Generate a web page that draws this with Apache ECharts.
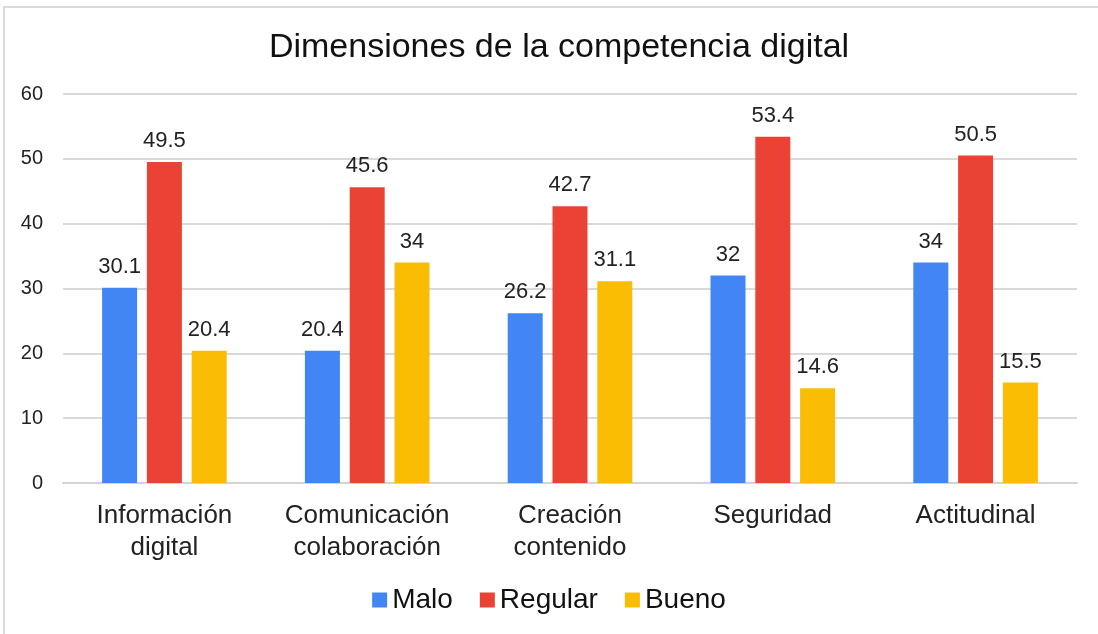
<!DOCTYPE html>
<html>
<head>
<meta charset="utf-8">
<script src="https://cdn.jsdelivr.net/npm/echarts@6/dist/echarts.min.js"></script>
<style>
html,body{margin:0;padding:0;background:#fff;overflow:hidden;}
#wrap{position:relative;width:1098px;height:634px;}
#chart{position:absolute;left:0;top:0;width:1098px;height:634px;}
#frame{position:absolute;left:3px;top:6px;width:1200px;height:800px;border:2px solid #dadada;pointer-events:none;}
</style>
</head>
<body>
<div id="wrap"><div id="chart"></div><div id="frame"></div></div>
<script>
const title = 'Dimensiones de la competencia digital';
const categories = ['Información\ndigital', 'Comunicación\ncolaboración', 'Creación\ncontenido', 'Seguridad', 'Actitudinal'];
const seriesNames = ['Malo', 'Regular', 'Bueno'];
const malo = [30.1, 20.4, 26.2, 32, 34];
const regular = [49.5, 45.6, 42.7, 53.4, 50.5];
const bueno = [20.4, 34, 31.1, 14.6, 15.5];
const colors = ['#4285F4', '#EA4335', '#FBBC04'];
const yTicks = {min: 0, max: 60, interval: 10};

const font = 'Liberation Sans, Arial, sans-serif';
const chart = echarts.init(document.getElementById('chart'));
const mk = (name, data, color) => ({
  name, type: 'bar', data, barWidth: 35, barGap: '28%',
  itemStyle: {color},
  label: {show: true, position: 'top', distance: 10, color: '#222', fontSize: 22, fontFamily: font}
});
chart.setOption({
  animation: false,
  color: colors,
  title: {text: title, left: 554, textAlign: 'center', top: 26, textStyle: {fontSize: 34, fontWeight: 'normal', color: '#111', fontFamily: font}},
  grid: {left: 63, right: 21, top: 94, bottom: 151, containLabel: false},
  legend: {
    data: seriesNames, bottom: 15, left: 'center', icon: 'rect', itemWidth: 15, itemHeight: 15, itemGap: 27,
    textStyle: {fontSize: 28, color: '#111', fontFamily: font, padding: [0, 0, 0, 0]}
  },
  xAxis: {
    type: 'category', data: categories,
    axisLine: {lineStyle: {color: '#d4d4d4', width: 2}},
    axisTick: {show: false},
    axisLabel: {fontSize: 26, color: '#222', fontFamily: font, margin: 17, lineHeight: 32, interval: 0}
  },
  yAxis: {
    type: 'value', min: yTicks.min, max: yTicks.max, interval: yTicks.interval,
    axisLine: {show: false}, axisTick: {show: false},
    splitLine: {lineStyle: {color: '#d9d9d9', width: 2}},
    axisLabel: {fontSize: 20, color: '#222', fontFamily: font, margin: 20}
  },
  series: [mk(seriesNames[0], malo, colors[0]), mk(seriesNames[1], regular, colors[1]), mk(seriesNames[2], bueno, colors[2])]
});
</script>
</body>
</html>
